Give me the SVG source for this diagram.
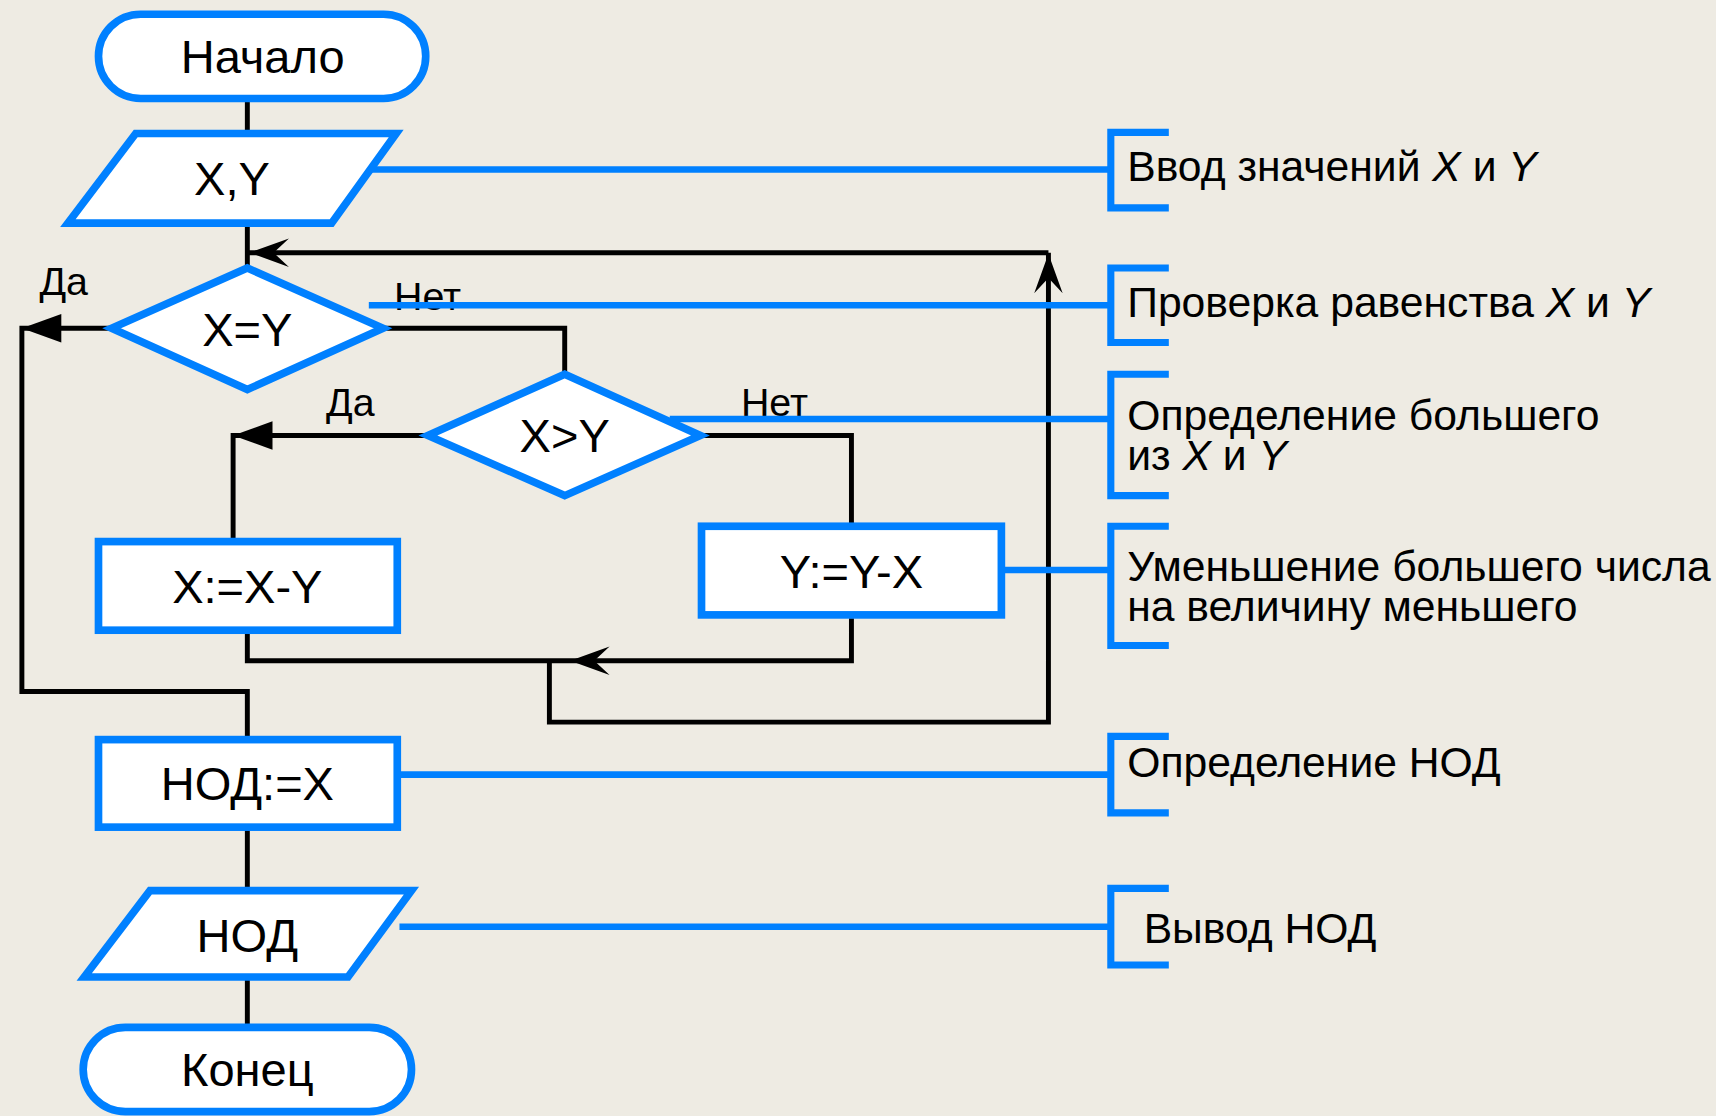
<svg xmlns="http://www.w3.org/2000/svg" xmlns:xlink="http://www.w3.org/1999/xlink" width="1716" height="1116" viewBox="0 0 1716 1116">
<style>
.bg{fill:#EEEBE3}
.node{fill:#FFFFFF;stroke:#0080FF;stroke-width:7}
.lbl{font-family:"Liberation Sans",Arial,sans-serif;font-size:43px;fill:#000;text-anchor:middle}
.yn{font-family:"Liberation Sans",Arial,sans-serif;font-size:36px;fill:#000}
.ann{font-family:"Liberation Sans",Arial,sans-serif;font-size:39px;fill:#000}
.flow{fill:none;stroke:#000;stroke-width:4.5;stroke-linejoin:miter}
.lead{fill:none;stroke:#0080FF;stroke-width:6}
.brk{fill:none;stroke:#0080FF;stroke-width:6.5}
.ah{fill:#000}
.it{font-style:italic}
</style>
<defs>
<path id="stealth" d="M0,0 L36,-13 L22,0 L36,13 Z"/>
<path id="tri" d="M0,0 L36,-13 L36,13 Z"/>
</defs>
<rect class="bg" x="0" y="0" width="1716" height="1116"/>
<g transform="scale(1.0944,1.0941)">
<g id="connectors">
<path class="flow" d="M226,93 L226,122"/>
<path class="flow" d="M226,204 L226,245"/>
<path class="flow" d="M958,231 L226,231"/>
<path class="flow" d="M102,300 L20,300 L20,632 L226,632 L226,673"/>
<path class="flow" d="M350,300 L516,300 L516,342"/>
<path class="flow" d="M391,398 L213,398 L213,492"/>
<path class="flow" d="M640,398 L778,398 L778,478"/>
<path class="flow" d="M226,578 L226,604 L778,604 L778,565"/>
<path class="flow" d="M502,604 L502,660 L958,660 L958,231"/>
<path class="flow" d="M226,758 L226,812"/>
<path class="flow" d="M226,895 L226,937"/>
<use class="ah" href="#stealth" xlink:href="#stealth" transform="translate(228,231)"/>
<use class="ah" href="#stealth" xlink:href="#stealth" transform="translate(958,232) rotate(90)"/>
<use class="ah" href="#stealth" xlink:href="#stealth" transform="translate(521,604)"/>
<use class="ah" href="#tri" xlink:href="#tri" transform="translate(20,300)"/>
<use class="ah" href="#tri" xlink:href="#tri" transform="translate(213,398)"/>
</g>
<g id="start">
<rect class="node" x="90" y="13" width="299" height="77" rx="38.5" ry="38.5"/>
<text class="lbl" x="240" y="67">Начало</text>
</g>
<g id="input">
<polygon class="node" points="124,122 362,122 303,204 62,204"/>
<text class="lbl" x="212" y="178">X,Y</text>
</g>
<g id="cond-eq">
<polygon class="node" points="226,245 350,300 226,356 102,300"/>
<text class="lbl" x="226" y="316">X=Y</text>
</g>
<g id="cond-gt">
<polygon class="node" points="516,342 640,398 516,453 391,398"/>
<text class="lbl" x="516" y="413">X&gt;Y</text>
</g>
<g id="sub-x">
<rect class="node" x="90" y="495" width="273" height="81"/>
<text class="lbl" x="226" y="551">X:=X-Y</text>
</g>
<g id="sub-y">
<rect class="node" x="641" y="481" width="274" height="81"/>
<text class="lbl" x="778" y="537">Y:=Y-X</text>
</g>
<g id="gcd">
<rect class="node" x="90" y="676" width="273" height="80"/>
<text class="lbl" x="226" y="731">НОД:=X</text>
</g>
<g id="output">
<polygon class="node" points="137,814 376,814 318,893 77,893"/>
<text class="lbl" x="226" y="870">НОД</text>
</g>
<g id="end">
<rect class="node" x="76" y="939" width="300" height="77" rx="38.5" ry="38.5"/>
<text class="lbl" x="226" y="993">Конец</text>
</g>
<g id="branch-labels">
<text class="yn" x="36" y="270">Да</text>
<text class="yn" x="360" y="283">Нет</text>
<text class="yn" x="298" y="380">Да</text>
<text class="yn" x="677" y="380">Нет</text>
</g>
<g id="leaders">
<path class="lead" d="M340,155 L1015,155"/>
<path class="lead" d="M337,279 L1015,279"/>
<path class="lead" d="M612,383 L1015,383"/>
<path class="lead" d="M915,521 L1015,521"/>
<path class="lead" d="M363,708 L1015,708"/>
<path class="lead" d="M365,847 L1015,847"/>
</g>
<g id="note-input">
<path class="brk" d="M1068,121 L1015,121 L1015,190 L1068,190"/>
<text class="ann" x="1030" y="165">Ввод значений <tspan class="it">X</tspan> и <tspan class="it">Y</tspan></text>
</g>
<g id="note-eq">
<path class="brk" d="M1068,245 L1015,245 L1015,313 L1068,313"/>
<text class="ann" x="1030" y="290">Проверка равенства <tspan class="it">X</tspan> и <tspan class="it">Y</tspan></text>
</g>
<g id="note-gt">
<path class="brk" d="M1068,342 L1015,342 L1015,453 L1068,453"/>
<text class="ann" x="1030" y="393">Определение большего<tspan x="1030" dy="37">из </tspan><tspan class="it">X</tspan> и <tspan class="it">Y</tspan></text>
</g>
<g id="note-sub">
<path class="brk" d="M1068,481 L1015,481 L1015,590 L1068,590"/>
<text class="ann" x="1030" y="531">Уменьшение большего числа<tspan x="1030" dy="37">на величину меньшего</tspan></text>
</g>
<g id="note-gcd">
<path class="brk" d="M1068,673 L1015,673 L1015,743 L1068,743"/>
<text class="ann" x="1030" y="710">Определение НОД</text>
</g>
<g id="note-out">
<path class="brk" d="M1068,812 L1015,812 L1015,882 L1068,882"/>
<text class="ann" x="1045" y="862">Вывод НОД</text>
</g>
</g>
</svg>
